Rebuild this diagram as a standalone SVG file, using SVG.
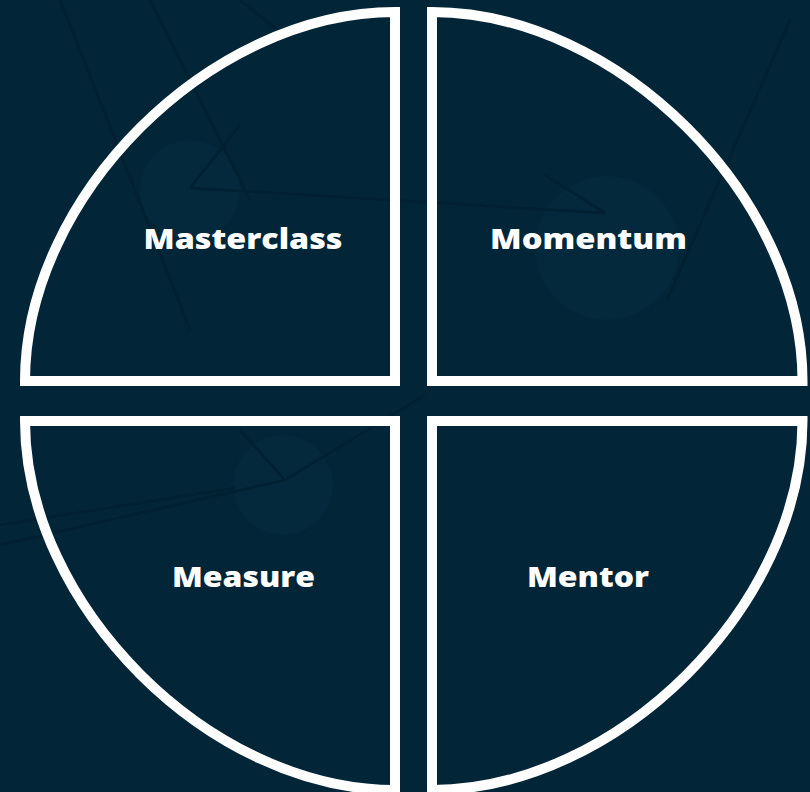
<svg xmlns="http://www.w3.org/2000/svg" width="810" height="792" viewBox="0 0 810 792">
  <style>
    .bgc { fill: #04283c; }
    .bgl { stroke: #012132; stroke-width: 2.5; fill: none; }
    .seg { fill: none; stroke: #ffffff; stroke-width: 10; stroke-linejoin: miter; }
    .lbl { font-family: "Open Sans", "Liberation Sans", sans-serif; font-weight: 800; font-size: 28px; fill: #ffffff; text-anchor: middle; }
  </style>
  <rect x="0" y="0" width="810" height="792" fill="#022537"/>
  <g id="background">
    <circle class="bgc" cx="190" cy="190" r="50"/>
    <circle class="bgc" cx="607" cy="248" r="72"/>
    <circle class="bgc" cx="283" cy="485" r="50"/>
    <path class="bgl" d="M 190 188 L 605 213 M 190 188 L 240 125 M 605 213 L 545 175 M 60 0 L 190 330 M 150 0 L 250 200 M 790 20 L 667 300 M 0 545 L 285 480 M 0 525 L 235 488 M 285 480 L 425 395 M 240 430 L 285 480 M 240 0 L 290 40"/>
  </g>
  <g id="connectors"></g>
  <g id="masterclass">
    <path class="seg" d="M 395 12 L 395 381 L 25 381 C 25 196.5 210 12 395 12 Z"/>
    <text class="lbl" x="243" y="249" textLength="199" lengthAdjust="spacingAndGlyphs">Masterclass</text>
  </g>
  <g id="momentum">
    <path class="seg" d="M 432 12 L 432 381 L 802.5 381 C 802.5 196.5 617 12 432 12 Z"/>
    <text class="lbl" x="588.5" y="249" textLength="197" lengthAdjust="spacingAndGlyphs">Momentum</text>
  </g>
  <g id="measure">
    <path class="seg" d="M 395 421 L 25 421 C 25 605.5 210 790 395 790 Z"/>
    <text class="lbl" x="243.5" y="587" textLength="143" lengthAdjust="spacingAndGlyphs">Measure</text>
  </g>
  <g id="mentor">
    <path class="seg" d="M 432 421 L 802.5 421 C 802.5 605.5 617 790 432 790 Z"/>
    <text class="lbl" x="588" y="587" textLength="122" lengthAdjust="spacingAndGlyphs">Mentor</text>
  </g>
</svg>
